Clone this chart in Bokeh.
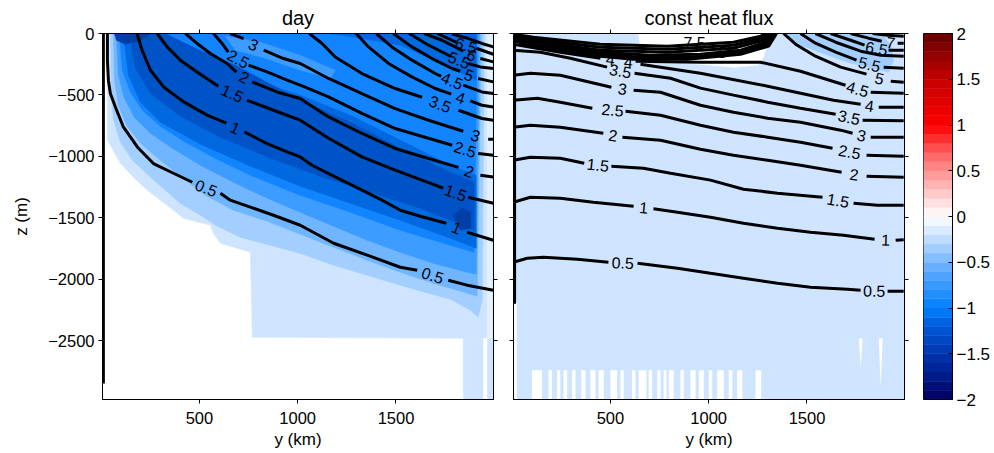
import numpy as np
from bokeh.plotting import figure
from bokeh.models import Range1d, LinearAxis, FixedTicker, CustomJSTickFormatter
from bokeh.layouts import row
from bokeh.embed import file_html
from bokeh.resources import INLINE
from bokeh.core.properties import value

NaN = float("nan")
FONT = "Liberation Sans"

# ---------------- axes ----------------
Y_KM_RANGE = (7, 1996)
Z_M_RANGE = (-2980, 0)
Y_KM_TICKS = [500, 1000, 1500]
Z_M_TICKS = [0, -500, -1000, -1500, -2000, -2500]
CB_RANGE = (-2, 2)
CB_TICKS = [-2, -1.5, -1, -0.5, 0, 0.5, 1, 1.5, 2]
CB_STEP = 0.1

# colour map (value -> colour)
CMAP_VALUES = [-2.0, -1.6, -1.2, -1.0, -0.6, -0.2, 0.0, 0.2, 0.6, 1.0, 1.5, 2.0]
CMAP_COLORS = ["#00005f", "#002aa0", "#005ad8", "#0080ff", "#5aa8ff", "#cde3ff",
               "#ffffff", "#ffd5d5", "#ff7a7a", "#ff0000", "#c40000", "#660000"]

# filled-contour colours (lightest -> darkest)
L1, L2, L3, L4, L5, L6, L7, L8 = ("#cfe5ff", "#a2cfff", "#6fb5ff", "#3c9cff",
                                  "#1284ff", "#0069e0", "#0053c6", "#003fa6")
WALL_LIGHT = "#e4f0ff"

# ================= panel "day" =================
# filled regions (y in km, z in m)
DAY_F1_Y = [32, 1996, 1996, 1842, 1842, 769, 759, 607, 571, 556, 418, 368, 301, 235, 164, 98, 32]
DAY_F1_Z = [0, 0, -2980, -2980, -2481, -2473, -1781, -1708, -1626, -1561, -1504, -1439, -1357, -1276, -1170, -1056, -869]
DAY_F2_Y = [47, 52, 63, 98, 159, 240, 327, 403, 505, 581, 708, 861, 1013, 1183, 1437, 1608, 1776, 1878, 1918, 1939, 1949]
DAY_F2_Z = [0, -462, -706, -885, -1032, -1154, -1276, -1384, -1480, -1561, -1659, -1724, -1791, -1887, -2009, -2090, -2163, -2253, -2310, -2172, 0]
DAY_F3_Y = [63, 68, 88, 129, 200, 301, 418, 530, 673, 845, 1013, 1183, 1354, 1522, 1689, 1862, 1913, 1934]
DAY_F3_Z = [0, -380, -584, -747, -893, -1032, -1178, -1317, -1439, -1528, -1634, -1740, -1846, -1944, -2033, -2114, -2139, 0]
DAY_F4_Y = [78, 88, 118, 169, 251, 362, 505, 673, 845, 1013, 1183, 1354, 1522, 1689, 1862, 1908, 1924]
DAY_F4_Z = [0, -340, -527, -682, -812, -934, -1073, -1211, -1341, -1455, -1569, -1683, -1781, -1870, -1944, -1960, 0]
DAY_F5_Y = [93, 108, 149, 210, 301, 429, 581, 759, 1013, 1267, 1522, 1776, 1898, 1913]
DAY_F5_Z = [0, -299, -478, -625, -755, -885, -1016, -1154, -1317, -1455, -1601, -1724, -1781, 0]
DAY_F4B_Y = [632, 810, 1013, 1191, 1166, 1013, 835, 683]
DAY_F4B_Z = [-22, -71, -177, -299, -364, -299, -201, -136]
DAY_F6_Y = [200, 352, 505, 708, 1013, 1267, 1522, 1776, 1908, 1908, 1776, 1522, 1267, 1013, 759, 505, 301, 200, 139, 113]
DAY_F6_Z = [0, -95, -217, -340, -502, -665, -869, -1073, -1154, -1748, -1667, -1520, -1382, -1243, -1080, -901, -722, -559, -340, 0]
DAY_F6B_Y = [1166, 1908, 1908, 1801, 1674, 1522, 1318]
DAY_F6B_Z = [0, 0, -380, -299, -201, -95, -38]
DAY_F7_Y = [327, 479, 683, 1013, 1267, 1522, 1776, 1898, 1898, 1827, 1623, 1369, 1115, 861, 607, 403, 251, 174, 144]
DAY_F7_Z = [0, -120, -258, -543, -722, -934, -1129, -1211, -1601, -1553, -1422, -1292, -1162, -1015, -844, -673, -486, -283, 0]
DAY_F8_Y = [68, 251, 200, 124, 78]
DAY_F8_Z = [0, 0, -55, -87, -55]
DAY_F8B_Y = [1791, 1837, 1878, 1878, 1827]
DAY_F8B_Z = [-1480, -1422, -1455, -1585, -1601]
DAY_WALL_STRIP_Y = [1964, 1989, 1989, 1964]
DAY_WALL_STRIP_Z = [0, 0, -2481, -2481]
DAY_WHITE_STRIP = dict(left=1944, right=1964, top=-2481)

# contour lines (NaN = gap left for the label)
DAY_C05_Y = [32, 32, 37, 47, 73, 113, 185, 266, 368, 464, NaN, 607, 657, 759, 877, 1013, 1183, 1354, 1522, 1608, NaN, 1766, 1862, 1995]
DAY_C05_Z = [0, -217, -380, -489, -600, -761, -926, -1059, -1138, -1211, NaN, -1300, -1357, -1414, -1480, -1561, -1708, -1805, -1903, -1927, NaN, -2009, -2049, -2090]
DAY_C10_Y = [183, 208, 251, 318, 420, 539, 637, NaN, 729, 844, 946, 1013, 1073, 1191, 1327, 1429, 1522, 1623, 1756, NaN, 1862, 1995]
DAY_C10_Z = [0, -136, -299, -435, -557, -665, -730, NaN, -801, -896, -964, -1005, -1073, -1168, -1276, -1357, -1439, -1488, -1545, NaN, -1618, -1683]
DAY_C15_Y = [285, 336, 403, 488, 596, NaN, 742, 877, 1013, 1157, 1327, 1496, 1700, 1740, NaN, 1867, 1995]
DAY_C15_Z = [0, -109, -217, -313, -429, NaN, -543, -625, -706, -853, -1005, -1113, -1235, -1260, NaN, -1333, -1382]
DAY_C20_Y = [429, 488, 556, 641, 688, NaN, 768, 895, 1013, 1157, 1327, 1496, 1666, 1818, NaN, 1929, 1995]
DAY_C20_Z = [0, -81, -163, -244, -315, NaN, -394, -476, -529, -679, -814, -936, -1018, -1090, NaN, -1154, -1168]
DAY_C25_Y = [572, 615, 647, NaN, 750, 844, 946, 1013, 1157, 1327, 1496, 1700, 1786, NaN, 1918, 1995]
DAY_C25_Z = [0, -81, -152, NaN, -258, -313, -380, -421, -516, -651, -774, -869, -910, NaN, -977, -991]
DAY_C30_Y = [657, 725, NaN, 827, 928, 1013, 1157, 1327, 1496, 1666, 1842, NaN, 1969, 1995]
DAY_C30_Z = [0, -41, NaN, -136, -204, -244, -366, -489, -611, -706, -796, NaN, -861, -861]
DAY_C35_Y = [1059, 1124, 1191, 1327, 1496, 1633, NaN, 1818, 1937, 1995]
DAY_C35_Z = [0, -81, -191, -326, -448, -519, NaN, -625, -692, -706]
DAY_C40_Y = [1298, 1360, 1462, 1581, 1700, 1781, NaN, 1878, 1937, 1995]
DAY_C40_Z = [0, -109, -244, -353, -448, -494, NaN, -549, -584, -598]
DAY_C45_Y = [1400, 1479, 1581, 1700, 1730, NaN, 1842, 1937, 1995]
DAY_C45_Z = [0, -109, -217, -326, -348, NaN, -421, -476, -489]
DAY_C50_Y = [1486, 1581, 1683, 1785, 1827, NaN, 1918, 1995]
DAY_C50_Z = [0, -109, -204, -285, -307, NaN, -366, -394]
DAY_C55_Y = [1567, 1666, 1750, 1776, NaN, 1867, 1929, 1995]
DAY_C55_Z = [0, -95, -163, -185, NaN, -244, -272, -285]
DAY_C60_Y = [1644, 1734, 1801, 1842, NaN, 1929, 1995]
DAY_C60_Z = [0, -55, -109, -144, NaN, -204, -231]
DAY_C65_Y = [1710, 1785, 1806, NaN, 1908, 1995]
DAY_C65_Z = [0, -55, -71, NaN, -120, -169]
DAY_C70_Y = [1785, 1869, 1937, 1995]
DAY_C70_Z = [-4, -41, -81, -109]
DAY_WALL_Y = [14, 14]
DAY_WALL_Z = [0, -2850]

DAY_LABEL_TEXT = ["0.5", "0.5", "1", "1", "1.5", "1.5", "2", "2", "2.5", "2.5",
                  "3", "3", "3.5", "4", "4.5", "5", "5.5", "6", "6.5"]
DAY_LABEL_Y = [535, 1687, 683, 1809, 668, 1804, 728, 1872, 698, 1852,
               776, 1905, 1725, 1829, 1786, 1872, 1822, 1885, 1857]
DAY_LABEL_Z = [-1256, -1968, -766, -1581, -486, -1296, -354, -1121, -205, -942,
               -89, -828, -572, -522, -384, -337, -215, -174, -95]
DAY_LABEL_ANGLE = [-21, -18, -25, -22, -25, -20, -28, -20, -28, -18,
                   -25, -17, -20, -19, -22, -22, -22, -23, -17]

# ================= panel "const heat flux" =================
FLUX_WHITE_LENS_Y = [643, 653, 704, 892, 1126, 1249, 1279, 1300, 1315]
FLUX_WHITE_LENS_Z = [0, -136, -201, -242, -274, -258, -193, -79, 0]
FLUX_L2_PATCH_Y = [1381, 1875, 1926, 1941, 1915, 1839, 1722, 1605, 1467]
FLUX_L2_PATCH_Z = [0, 0, -95, -217, -315, -283, -242, -177, -95]
FLUX_GAP_LEFT = [101, 186, 229, 262, 305, 352, 398, 440, 500, 551, 610, 644,
                 695, 738, 771, 797, 856, 907, 950, 1001, 1043, 1102, 1145, 1238]
FLUX_GAP_RIGHT = [152, 203, 245, 280, 322, 373, 424, 466, 534, 568, 627, 683,
                  712, 755, 785, 822, 873, 933, 975, 1018, 1077, 1120, 1171, 1267]
FLUX_GAP_TOP = -2742
FLUX_SLIVER_Y = [[1763, 1783, 1773], [1865, 1885, 1875]]
FLUX_SLIVER_Z = [[-2481, -2481, -2717], [-2481, -2481, -2880]]
FLUX_LEFT_STRIP = dict(left=11, right=24, top=-2172)

FLUX_C05_Y = [6, 77, 159, 332, 490, NaN, 638, 841, 1009, 1177, 1350, 1518, 1706, 1773, NaN, 1910, 1992]
FLUX_C05_Z = [-1862, -1830, -1822, -1838, -1862, NaN, -1870, -1911, -1952, -1992, -2033, -2066, -2082, -2090, NaN, -2098, -2098]
FLUX_C10_Y = [6, 93, 245, 413, 618, NaN, 719, 841, 1009, 1177, 1350, 1518, 1686, 1844, NaN, 1951, 1992]
FLUX_C10_Z = [-1374, -1333, -1341, -1374, -1406, NaN, -1427, -1455, -1496, -1545, -1585, -1618, -1642, -1675, NaN, -1683, -1679]
FLUX_C15_Y = [6, 93, 245, 367, NaN, 505, 668, 806, 1009, 1177, 1350, 1579, NaN, 1737, 1859, 1992]
FLUX_C15_Z = [-1032, -1008, -1016, -1056, NaN, -1081, -1097, -1138, -1194, -1268, -1300, -1333, NaN, -1382, -1398, -1398]
FLUX_C20_Y = [6, 93, 245, 464, NaN, 561, 755, 958, 1126, 1300, 1467, 1676, NaN, 1803, 1992]
FLUX_C20_Z = [-763, -747, -763, -812, NaN, -844, -869, -942, -991, -1032, -1073, -1129, NaN, -1162, -1170]
FLUX_C25_Y = [6, 128, 245, 408, NaN, 577, 755, 958, 1126, 1300, 1467, 1630, NaN, 1803, 1992]
FLUX_C25_Z = [-543, -527, -559, -608, NaN, -633, -665, -747, -804, -844, -885, -934, NaN, -991, -999]
FLUX_C30_Y = [6, 93, 245, 505, NaN, 618, 755, 958, 1126, 1300, 1467, 1671, 1732, NaN, 1824, 1992]
FLUX_C30_Z = [-340, -323, -340, -437, NaN, -462, -478, -584, -641, -690, -722, -787, -812, NaN, -844, -844]
FLUX_C35_Y = [6, 144, 296, 483, NaN, 623, 806, 958, 1126, 1300, 1467, 1646, NaN, 1783, 1992]
FLUX_C35_Z = [-136, -152, -201, -274, NaN, -323, -364, -445, -502, -559, -608, -657, NaN, -706, -710]
FLUX_C40_Y = [6, 245, 449, NaN, 653, 958, 1300, 1635, 1773, NaN, 1865, 1992]
FLUX_C40_Z = [-87, -152, -201, NaN, -250, -323, -429, -543, -576, NaN, -600, -600]
FLUX_C45_Y = [628, 958, 1264, 1467, 1696, NaN, 1824, 1992]
FLUX_C45_Z = [-226, -234, -234, -307, -421, NaN, -478, -487]
# tightly packed contours 5 ... 7.5 that form the black band near the surface
FLUX_BAND_Y = [[6, 108, 449, 790, 1126, 1264, 1290],
               [6, 108, 449, 790, 1126, 1274, 1305],
               [6, 108, 449, 790, 1126, 1279, 1315],
               [6, 108, 449, 704, 958, 1162, 1290, 1325],
               [6, 108, 449, 653, 907, 1162, 1300, 1335],
               [6, 108, 449, 618, 892, 1162, 1305, 1345]]
FLUX_BAND_Z = [[-6, -30, -87, -103, -71, -22, 0],
               [-14, -46, -112, -128, -95, -38, 0],
               [-22, -63, -136, -152, -120, -55, 0],
               [-30, -79, -152, -177, -169, -136, -71, 0],
               [-38, -95, -169, -193, -193, -152, -87, 0],
               [-55, -112, -185, -209, -209, -169, -103, 0]]
FLUX_F50_Y = [1381, 1442, 1543, 1671, 1803, NaN, 1926, 1992]
FLUX_F50_Z = [0, -87, -185, -274, -331, NaN, -388, -397]
FLUX_F55_Y = [1467, 1543, 1646, 1752, NaN, 1890, 1992]
FLUX_F55_Z = [0, -79, -152, -217, NaN, -274, -283]
FLUX_F60_Y = [1543, 1646, 1773, 1875, 1992]
FLUX_F60_Z = [0, -71, -144, -177, -185]
FLUX_F65_Y = [1620, 1722, 1793, NaN, 1915, 1992]
FLUX_F65_Z = [0, -55, -95, NaN, -136, -136]
FLUX_F70_Y = [1722, 1813, 1880, NaN, 1961, 1992]
FLUX_F70_Z = [0, -38, -63, NaN, -79, -79]
FLUX_F75_Y = [1834, 1910, 1992]
FLUX_F75_Z = [0, -14, -22]
FLUX_WALL_Y = [10, 10]
FLUX_WALL_Z = [0, -2200]

FLUX_LABEL_TEXT = ["0.5", "0.5", "1", "1", "1.5", "1.5", "2", "2", "2.5", "2.5",
                   "3", "3", "3.5", "3.5", "4", "4", "4", "4.5", "5", "5.5",
                   "6.5", "7", "7.5", "5"]
FLUX_LABEL_Y = [563, 1842, 669, 1900, 436, 1658, 513, 1740, 511, 1717,
                561, 1778, 551, 1714, 500, 592, 1818, 1758, 1869, 1818,
                1854, 1926, 928, 1070]
FLUX_LABEL_Z = [-1866, -2094, -1417, -1679, -1068, -1357, -828, -1146, -621, -963,
                -450, -828, -303, -682, -209, -230, -588, -450, -364, -250,
                -120, -73, -75, -150]
FLUX_LABEL_ANGLE = [-2, -1, -5, -2, -6, -10, -8, -7, -5, -11,
                    -8, -12, -10, -12, -8, -5, -8, -16, -14, -14,
                    -10, -8, 0, -5]

# ---------------------------------------------------------------
MINUS_FMT = CustomJSTickFormatter(code="return tick < 0 ? '\u2212' + Math.abs(tick) : '' + tick;")
TICK_FONT = "16.5px"


def style_axis(ax, ticks, labels=True, tick_in=0, tick_out=4, standoff=5, size=TICK_FONT):
    ax.ticker = FixedTicker(ticks=ticks)
    ax.minor_tick_line_color = None
    ax.major_tick_in = tick_in
    ax.major_tick_out = tick_out
    ax.major_tick_line_color = "black"
    ax.axis_line_color = "black"
    ax.major_label_text_font = FONT
    ax.formatter = MINUS_FMT
    if labels:
        ax.major_label_text_color = "black"
        ax.major_label_text_font_size = size
        ax.major_label_standoff = standoff
    else:
        ax.major_label_text_color = None
        ax.major_label_text_font_size = "0px"
        ax.major_label_standoff = 0
    ax.axis_label_text_font = FONT
    ax.axis_label_text_font_size = "17px"
    ax.axis_label_text_font_style = "normal"
    ax.axis_label_text_color = "black"


def make_panel(title, width, border_left, border_right, ylabel, bg):
    p = figure(width=width, height=453, title=title,
               x_range=Range1d(*Y_KM_RANGE), y_range=Range1d(*Z_M_RANGE),
               output_backend="svg", toolbar_location=None,
               min_border_left=border_left, min_border_right=border_right,
               min_border_top=33, min_border_bottom=54,
               background_fill_color=bg, border_fill_color="white",
               outline_line_color="black", outline_line_alpha=1.0)
    p.grid.visible = False
    p.title.text_font = FONT
    p.title.text_font_size = "20px"
    p.title.text_font_style = "normal"
    p.title.text_color = "black"
    p.title.align = "center"
    p.title.standoff = 2
    style_axis(p.xaxis[0], Y_KM_TICKS, standoff=8)
    p.xaxis[0].axis_label = "y (km)"
    p.xaxis[0].axis_label_standoff = 3
    style_axis(p.yaxis[0], Z_M_TICKS, labels=ylabel is not None, standoff=4)
    if ylabel:
        p.yaxis[0].axis_label = ylabel
        p.yaxis[0].axis_label_standoff = 14
    top = LinearAxis()
    style_axis(top, Y_KM_TICKS, labels=False)
    p.add_layout(top, "above")
    right = LinearAxis()
    style_axis(right, Z_M_TICKS, labels=False)
    p.add_layout(right, "right")
    return p


def fill(p, ys, zs, color):
    p.patch(np.array(ys, float), np.array(zs, float), fill_color=color,
            line_color=color, line_width=0.5)


def contour(p, ys, zs, width=3):
    p.line(np.array(ys, float), np.array(zs, float), line_color="black",
           line_width=width)


def labels(p, ys, zs, texts, angles):
    p.text(x=ys, y=zs, text=texts, angle=angles, angle_units="deg",
           text_align="center", text_baseline="middle", text_color="black",
           text_font=value(FONT), text_font_size=value("16px"))


# ---------- left panel ----------
p1 = make_panel("day", 503, 102, 10, "z (m)", "white")
fill(p1, DAY_F1_Y, DAY_F1_Z, L1)
fill(p1, DAY_WALL_STRIP_Y, DAY_WALL_STRIP_Z, WALL_LIGHT)
p1.quad(left=DAY_WHITE_STRIP["left"], right=DAY_WHITE_STRIP["right"],
        top=DAY_WHITE_STRIP["top"], bottom=Z_M_RANGE[0], fill_color="white", line_color=None)
fill(p1, DAY_F2_Y, DAY_F2_Z, L2)
fill(p1, DAY_F3_Y, DAY_F3_Z, L3)
fill(p1, DAY_F4_Y, DAY_F4_Z, L4)
fill(p1, DAY_F5_Y, DAY_F5_Z, L5)
fill(p1, DAY_F4B_Y, DAY_F4B_Z, L4)
fill(p1, DAY_F6_Y, DAY_F6_Z, L6)
fill(p1, DAY_F6B_Y, DAY_F6B_Z, L6)
fill(p1, DAY_F7_Y, DAY_F7_Z, L7)
fill(p1, DAY_F8_Y, DAY_F8_Z, L8)
fill(p1, DAY_F8B_Y, DAY_F8B_Z, L8)
for ys, zs in [(DAY_C05_Y, DAY_C05_Z), (DAY_C10_Y, DAY_C10_Z), (DAY_C15_Y, DAY_C15_Z),
               (DAY_C20_Y, DAY_C20_Z), (DAY_C25_Y, DAY_C25_Z), (DAY_C30_Y, DAY_C30_Z),
               (DAY_C35_Y, DAY_C35_Z), (DAY_C40_Y, DAY_C40_Z), (DAY_C45_Y, DAY_C45_Z),
               (DAY_C50_Y, DAY_C50_Z), (DAY_C55_Y, DAY_C55_Z), (DAY_C60_Y, DAY_C60_Z),
               (DAY_C65_Y, DAY_C65_Z), (DAY_C70_Y, DAY_C70_Z)]:
    contour(p1, ys, zs)
contour(p1, DAY_WALL_Y, DAY_WALL_Z, width=2)
labels(p1, DAY_LABEL_Y, DAY_LABEL_Z, DAY_LABEL_TEXT, DAY_LABEL_ANGLE)

# ---------- right panel ----------
p2 = make_panel("const heat flux", 410, 10, 9, None, L1)
fill(p2, FLUX_WHITE_LENS_Y, FLUX_WHITE_LENS_Z, "white")
fill(p2, FLUX_L2_PATCH_Y, FLUX_L2_PATCH_Z, L2)
p2.quad(left=FLUX_GAP_LEFT, right=FLUX_GAP_RIGHT, top=FLUX_GAP_TOP,
        bottom=Z_M_RANGE[0], fill_color="white", line_color=None)
p2.patches(FLUX_SLIVER_Y, FLUX_SLIVER_Z, fill_color="white", line_color=None)
p2.quad(left=FLUX_LEFT_STRIP["left"], right=FLUX_LEFT_STRIP["right"],
        top=FLUX_LEFT_STRIP["top"], bottom=Z_M_RANGE[0], fill_color="white", line_color=None)
for ys, zs in [(FLUX_C05_Y, FLUX_C05_Z), (FLUX_C10_Y, FLUX_C10_Z), (FLUX_C15_Y, FLUX_C15_Z),
               (FLUX_C20_Y, FLUX_C20_Z), (FLUX_C25_Y, FLUX_C25_Z), (FLUX_C30_Y, FLUX_C30_Z),
               (FLUX_C35_Y, FLUX_C35_Z), (FLUX_C40_Y, FLUX_C40_Z), (FLUX_C45_Y, FLUX_C45_Z),
               (FLUX_F50_Y, FLUX_F50_Z), (FLUX_F55_Y, FLUX_F55_Z), (FLUX_F60_Y, FLUX_F60_Z),
               (FLUX_F65_Y, FLUX_F65_Z), (FLUX_F70_Y, FLUX_F70_Z), (FLUX_F75_Y, FLUX_F75_Z)]:
    contour(p2, ys, zs)
p2.multi_line(FLUX_BAND_Y, FLUX_BAND_Z, line_color="black", line_width=3)
contour(p2, FLUX_WALL_Y, FLUX_WALL_Z, width=4)
labels(p2, FLUX_LABEL_Y, FLUX_LABEL_Z, FLUX_LABEL_TEXT, FLUX_LABEL_ANGLE)

# ---------- colour bar ----------
cb_edges = np.arange(CB_RANGE[0], CB_RANGE[1] + CB_STEP / 2, CB_STEP)
cb_mid = (cb_edges[:-1] + cb_edges[1:]) / 2


def hex_to_rgb(h):
    return [int(h[i:i + 2], 16) for i in (1, 3, 5)]


anchor_rgb = np.array([hex_to_rgb(c) for c in CMAP_COLORS], float)
cb_colors = []
for v in cb_mid:
    rgb = [int(round(np.interp(v, CMAP_VALUES, anchor_rgb[:, k]))) for k in range(3)]
    cb_colors.append("#%02x%02x%02x" % tuple(rgb))

p3 = figure(width=81, height=453, x_range=Range1d(0, 1), y_range=Range1d(*CB_RANGE),
            output_backend="svg", toolbar_location=None, y_axis_location="right",
            x_axis_location=None, min_border_left=10, min_border_right=42,
            min_border_top=33, min_border_bottom=53, outline_line_color="black")
p3.grid.visible = False
p3.quad(left=0, right=1, bottom=cb_edges[:-1], top=cb_edges[1:],
        fill_color=cb_colors, line_color=cb_colors, line_width=0.5)
style_axis(p3.yaxis[0], CB_TICKS, tick_in=4, tick_out=0, standoff=4, size="17px")

layout = row(p1, p2, p3)
open("out.html", "w").write(file_html(layout, INLINE))
